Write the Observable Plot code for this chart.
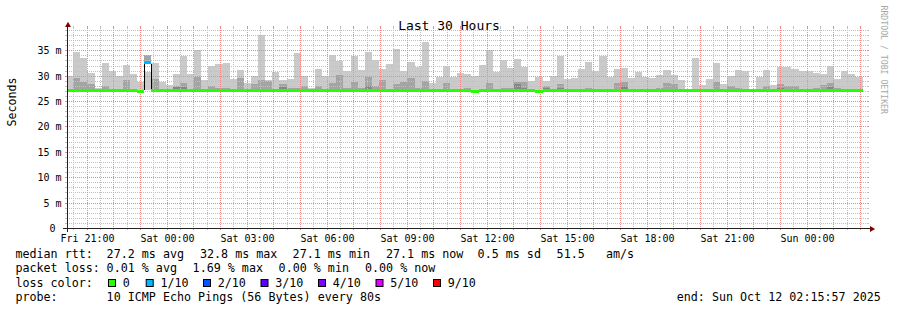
<!DOCTYPE html>
<html><head><meta charset="utf-8">
<script src="https://cdn.jsdelivr.net/npm/d3@7"></script>
<script src="https://cdn.jsdelivr.net/npm/@observablehq/plot@0.6"></script>
<style>
html,body{margin:0;padding:0;background:#fff;}
#wrap{width:897px;height:310px;overflow:hidden;background:#fff;}
#wrap svg{display:block;}
</style></head>
<body><div id="wrap"></div>
<script>
// ---- time frame ----
const startTime = new Date("2025-10-10T20:15:57Z");
const endTime   = new Date("2025-10-12T02:15:57Z");
const firstBinStart = new Date("2025-10-10T20:14:00Z");
const binMinutes = 16;

// ---- smoke values per 16-minute bin (ms) ----
const smokeBase = 27.1;
const maxRtt = [
 30.0, 34.7, 33.5, 30.5, 27.5, 32.5, 30.9, 29.9, 32.1, 30.3,
 28.8, 30.8, 32.5, 28.7, 28.1, 30.3, 33.9, 30.3, 35.0, 29.1,
 32.0, 32.3, 32.5, 29.3, 31.2, 28.5, 30.0, 38.1, 29.1, 30.7,
 29.1, 29.3, 34.5, 29.9, 27.5, 31.3, 29.9, 34.1, 32.9, 31.0,
 33.9, 31.2, 34.7, 33.1, 31.4, 32.3, 35.3, 30.9, 32.7, 31.7,
 36.7, 28.5, 29.7, 31.9, 29.7, 30.5, 30.3, 29.9, 32.1, 35.0,
 30.7, 33.1, 31.5, 33.3, 31.7, 29.0, 29.7, 29.0, 29.9, 33.9,
 29.3, 29.5, 31.3, 32.7, 30.9, 33.9, 29.7, 31.3, 31.5, 29.5,
 30.7, 29.7, 29.6, 30.1, 31.1, 30.1, 29.1, 27.3, 33.5, 28.2,
 29.3, 32.5, 28.3, 29.9, 31.1, 31.0, 27.3, 29.7, 31.1, 28.1,
 31.7, 31.7, 31.3, 31.0, 31.0, 30.6, 30.4, 32.0, 29.3, 31.0,
 30.3, 29.7];
const midRtt = [
 null, 29.5, 28.7, 28.3, null, 27.9, null, null, 29.1, null,
 null, null, 29.3, null, null, 28.0, 28.6, null, 29.7, null,
 27.9, 27.6, 27.6, null, 29.5, null, 28.3, 29.1, 29.0, null,
 28.3, 27.6, 27.6, 28.0, null, 28.0, null, 28.5, 30.1, 27.5,
 28.7, 27.6, 29.7, 28.0, 29.1, null, 28.3, 28.7, 29.5, 27.5,
 28.9, null, null, 28.5, null, null, 27.6, null, null, 28.5,
 null, 27.5, 27.6, 28.7, 28.7, null, null, 28.0, null, 28.3,
 null, null, null, 27.6, null, null, null, 28.5, 28.7, null,
 null, null, null, 27.5, 28.5, 28.4, null, null, null, null,
 null, 28.7, null, 27.9, 27.5, null, null, null, 28.0, null,
 28.3, 27.9, 27.9, null, null, 27.5, 28.1, 28.5, 27.6, null,
 null, null];
const darkRtt = [
 null, null, null, null, null, null, null, null, null, null,
 null, null, null, null, null, 27.7, 27.7, null, null, null,
 null, null, null, null, null, null, null, null, null, null,
 27.7, null, null, null, null, null, null, null, null, null,
 null, null, 27.9, null, null, null, null, null, null, null,
 null, null, null, null, null, null, null, null, null, null,
 null, null, null, 28.3, 27.5, null, null, 27.6, null, 27.6,
 null, null, null, null, null, null, null, null, 27.9, null,
 null, null, null, null, null, null, null, null, null, null,
 null, null, null, null, null, null, null, null, null, null,
 27.5, null, null, null, null, null, null, 27.7, null, null,
 null, null];
const medianRtt = [
 27.2, 27.2, 27.2, 27.2, 27.2, 27.2, 27.2, 27.2, 27.2, 27.2,
 27.05, 32.7, 27.2, 27.2, 27.2, 27.2, 27.2, 27.2, 27.2, 27.2,
 27.2, 27.2, 27.2, 27.2, 27.2, 27.2, 27.2, 27.2, 27.2, 27.2,
 27.2, 27.2, 27.2, 27.2, 27.2, 27.2, 27.2, 27.2, 27.2, 27.2,
 27.2, 27.2, 27.2, 27.2, 27.2, 27.2, 27.2, 27.2, 27.2, 27.2,
 27.2, 27.2, 27.2, 27.2, 27.2, 27.2, 27.2, 27.05, 27.2, 27.2,
 27.2, 27.2, 27.2, 27.2, 27.2, 27.2, 27.05, 27.2, 27.2, 27.2,
 27.2, 27.2, 27.2, 27.2, 27.2, 27.2, 27.2, 27.2, 27.2, 27.2,
 27.2, 27.2, 27.2, 27.1, 27.2, 27.2, 27.2, 27.2, 27.2, 27.2,
 27.2, 27.2, 27.2, 27.2, 27.2, 27.2, 27.2, 27.2, 27.2, 27.2,
 27.2, 27.2, 27.2, 27.2, 27.2, 27.2, 27.2, 27.2, 27.2, 27.2,
 27.2, 27.2];
const lossCount = [
 0,0,0,0,0,0,0,0,0,0, 0,1,0,0,0,0,0,0,0,0,
 0,0,0,0,0,0,0,0,0,0, 0,0,0,0,0,0,0,0,0,0,
 0,0,0,0,0,0,0,0,0,0, 0,0,0,0,0,0,0,0,0,0,
 0,0,0,0,0,0,0,0,0,0, 0,0,0,0,0,0,0,0,0,0,
 0,0,0,0,0,0,0,0,0,0, 0,0,0,0,0,0,0,0,0,0,
 0,0,0,0,0,0,0,0,0,0, 0,0];
// smoke cap above the median in the lossy bin
const capBins = [11];
const capLow = [32.9];
const capHigh = [34.0];

// ---- loss colours / legend ----
const lossColors = ["#26ff00","#00b8ff","#0059ff","#5e00ff","#7e00ff","#dd00ff","#ff0000"];
const lossLabels = ["0","1/10","2/10","3/10","4/10","5/10","9/10"];
const medianStatValues = ["27.2","32.8","27.1","27.1","0.5"];
const medianStatNames = ["ms avg","ms max","ms min","ms now","ms sd"];
const amsValue = "51.5";
const lossStatValues = ["0.01","1.69","0.00","0.00"];
const lossStatNames = ["% avg","% max","% min","% now"];
const probeText = "10 ICMP Echo Pings (56 Bytes) every 80s";
const endText = "end: Sun Oct 12 02:15:57 2025";

// ---- axis ticks ----
const yTicks = [0,5,10,15,20,25,30,35];
const yTickLabels = ["0\u00a0","5 m","10 m","15 m","20 m","25 m","30 m","35 m"];
const xTickTimes = ["2025-10-10T21:00Z","2025-10-11T00:00Z","2025-10-11T03:00Z","2025-10-11T06:00Z","2025-10-11T09:00Z",
  "2025-10-11T12:00Z","2025-10-11T15:00Z","2025-10-11T18:00Z","2025-10-11T21:00Z","2025-10-12T00:00Z"].map(s => new Date(s));
const xTickLabels = ["Fri 21:00","Sat 00:00","Sat 03:00","Sat 06:00","Sat 09:00","Sat 12:00","Sat 15:00","Sat 18:00","Sat 21:00","Sun 00:00"];

// ---- build tables ----
const binMs = binMinutes * 60000;
const bins = maxRtt.map((mx, i) => ({
  t0: new Date(firstBinStart.getTime() + i * binMs),
  t1: new Date(firstBinStart.getTime() + (i + 1) * binMs),
  max: mx, mid: midRtt[i], dark: darkRtt[i], median: medianRtt[i], loss: lossCount[i]
}));
const caps = capBins.map((b, k) => ({t0: bins[b].t0, t1: bins[b].t1, lo: capLow[k], hi: capHigh[k]}));
const edges = [];
bins.forEach((d, i) => {
  if (d.loss > 0) {
    if (i > 0) edges.push({t: d.t0, lo: bins[i-1].median, hi: d.median});
    if (i < bins.length - 1) edges.push({t: d.t1, lo: bins[i+1].median, hi: d.median});
  }
});
const yAll = d3.range(1, 40);
const minorY = yAll.filter(v => v % 5 !== 0);
const majorY = yAll.filter(v => v % 5 === 0);
const hours = d3.utcHour.range(startTime, endTime);
const halfHours = d3.utcMinute.every(30).range(startTime, endTime).filter(d => d.getUTCMinutes() === 30);
const yMax = 39.4;

const gridC = "#c0c0c0", mgridC = "#f08888", axisC = "#212121", arrowC = "#7f0000";
const dotted = {strokeDasharray: "1,1", strokeDashoffset: 0.5, shapeRendering: "crispEdges"};

const chart = Plot.plot({
  width: 897, height: 245,
  marginLeft: 67, marginRight: 30, marginTop: 28, marginBottom: 17,
  x: {type: "utc", domain: [startTime, endTime], axis: null, round: true},
  y: {domain: [0, yMax], axis: null, round: true},
  color: {type: "identity"},
  style: {fontFamily: "'DejaVu Sans Mono', monospace", fontSize: "10px", background: "#fff", overflow: "visible"},
  marks: [
    // smoke
    Plot.rect(bins, {x1: "t0", x2: "t1", y1: smokeBase, y2: "max", fill: "#cacaca", clip: true, shapeRendering: "crispEdges"}),
    Plot.rect(bins.filter(d => d.mid != null), {x1: "t0", x2: "t1", y1: smokeBase, y2: "mid", fill: "#a4a4a4", clip: true, shapeRendering: "crispEdges"}),
    Plot.rect(bins.filter(d => d.dark != null), {x1: "t0", x2: "t1", y1: smokeBase, y2: "dark", fill: "#868686", clip: true, shapeRendering: "crispEdges"}),
    Plot.rect(caps, {x1: "t0", x2: "t1", y1: "lo", y2: "hi", fill: "#a4a4a4", shapeRendering: "crispEdges"}),
    // grid (dotted) + small ticks outside the frame
    Plot.ruleY(minorY, {stroke: gridC, ...dotted}),
    Plot.ruleX(halfHours, {stroke: gridC, ...dotted}),
    Plot.ruleY(majorY, {stroke: mgridC, ...dotted}),
    Plot.ruleX(hours, {stroke: mgridC, ...dotted}),
    Plot.ruleY(minorY, {y: d => d, x1: startTime, x2: startTime, insetLeft: -2, stroke: gridC}),
    Plot.ruleY(minorY, {y: d => d, x1: endTime, x2: endTime, insetRight: -2, stroke: gridC}),
    Plot.ruleY(majorY, {y: d => d, x1: startTime, x2: startTime, insetLeft: -2, stroke: mgridC}),
    Plot.ruleY(majorY, {y: d => d, x1: endTime, x2: endTime, insetRight: -2, stroke: mgridC}),
    Plot.ruleX(halfHours, {x: d => d, y1: 0, y2: 0, insetBottom: -2, stroke: gridC}),
    Plot.ruleX(halfHours, {x: d => d, y1: yMax, y2: yMax, insetTop: -2, stroke: gridC}),
    Plot.ruleX(hours, {x: d => d, y1: 0, y2: 0, insetBottom: -2, stroke: mgridC}),
    Plot.ruleX(hours, {x: d => d, y1: yMax, y2: yMax, insetTop: -2, stroke: mgridC}),
    // median line coloured by loss
    Plot.ruleY(bins, {x1: "t0", x2: "t1", y: "median", stroke: d => lossColors[d.loss], strokeWidth: 3, clip: true, shapeRendering: "crispEdges"}),
    Plot.ruleX(edges, {x: "t", y1: "lo", y2: "hi", stroke: "#000", strokeWidth: 1, insetTop: -1.5, insetBottom: -1.5, shapeRendering: "crispEdges"}),
    // axes
    Plot.ruleY([0], {stroke: axisC, insetLeft: -4, insetRight: -4}),
    Plot.ruleX([startTime], {stroke: axisC, insetTop: -4, insetBottom: -4}),
    Plot.dot([{t: endTime, v: 0}], {x: "t", y: "v", symbol: "triangle", r: 2.2, fill: arrowC, stroke: "none", rotate: 90, dx: 4.2, dy: 0.5}),
    Plot.dot([{t: startTime, v: yMax}], {x: "t", y: "v", symbol: "triangle", r: 2.2, fill: arrowC, stroke: "none", dx: 0.5, dy: -3.3}),
    // tick labels
    Plot.text(yTicks, {y: d => d, frameAnchor: "left", text: (d, i) => yTickLabels[i], textAnchor: "end", dx: -6, fontSize: 10, fill: "#000"}),
    Plot.text(xTickTimes, {x: d => d, frameAnchor: "bottom", text: (d, i) => xTickLabels[i], lineAnchor: "top", dy: 6, fontSize: 10, fill: "#000"}),
    // titles
    Plot.text(["Last 30 Hours"], {frameAnchor: "top", dx: -18.5, dy: -8.2, fontSize: 13, fill: "#000"}),
    Plot.text(["Seconds"], {frameAnchor: "left", rotate: -90, dx: -55.7, dy: -2, fontSize: 11.6, fill: "#000"}),
    Plot.text(["RRDTOOL / TOBI OETIKER"], {frameAnchor: "top-right", rotate: 90, textAnchor: "start", dx: 19, dy: -23, fontSize: 8.2, fill: "#a8a8a8"})
  ]
});
document.getElementById("wrap").appendChild(chart);

// ---- legend below the chart ----
const legend = d3.create("svg").attr("width", 897).attr("height", 65)
  .attr("font-family", "'DejaVu Sans Mono', monospace").attr("font-size", 11.7).attr("fill", "#000");
function put(x, y, s, anchor) {
  legend.append("text").attr("x", x).attr("y", y).attr("text-anchor", anchor || "start")
    .style("white-space", "pre").text(s);
}
const row = [13.3, 27.3, 41.7, 55.7];
put(15.4, row[0], "median rtt:");
const medX = [106.6, 200.0, 292.6, 386.0, 477.6];
medianStatValues.forEach((v, i) => put(medX[i], row[0], v + " " + medianStatNames[i]));
put(556.6, row[0], amsValue);
put(606.0, row[0], "am/s");
put(15.4, row[1], "packet loss:");
const lossX = [106.6, 192.6, 278.6, 365.0];
lossStatValues.forEach((v, i) => put(lossX[i], row[1], v + " " + lossStatNames[i]));
put(15.4, row[2], "loss color:");
const swX = [108.5, 146.2, 203.5, 261.0, 318.5, 376.0, 433.5];
lossColors.forEach((c, i) => {
  legend.append("rect").attr("x", swX[i]).attr("y", 34.5).attr("width", 7).attr("height", 7)
    .attr("fill", c).attr("stroke", "#000").attr("stroke-width", 1);
  put(swX[i] + 14.2, row[2], lossLabels[i]);
});
put(15.4, row[3], "probe:");
put(106.6, row[3], probeText);
put(880.8, row[3], endText, "end");
document.getElementById("wrap").appendChild(legend.node());
</script>
</body></html>
